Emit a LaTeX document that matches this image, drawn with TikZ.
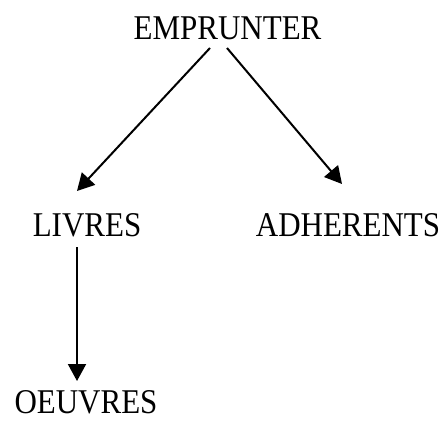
\documentclass[tikz,border=0pt]{standalone}
\usepackage{fontspec}
\setmainfont{Liberation Serif}
\usetikzlibrary{arrows.meta,calc}
\tikzset{
  lbl/.style={inner sep=0pt, anchor=base, font=\fontsize{31}{31}\selectfont},
  arr/.style={line width=2pt, -{Triangle[length=17pt,width=18pt]}}
}
\newcommand{\stretchtxt}[1]{\scalebox{1}[1.12]{#1}}
\begin{document}
\begin{tikzpicture}[x=1pt,y=-1pt]
\useasboundingbox (0,0) rectangle (446,421);
\node[lbl] (emp) at (227.5,39) {\stretchtxt{EMPRUNTER}};
\node[lbl] (livres) at (87,236) {\stretchtxt{LIVRES}};
\node[lbl] (adh) at (348,236) {\stretchtxt{ADHERENTS}};
\node[lbl] (oeuv) at (86,413) {\stretchtxt{OEUVRES}};
\draw[arr] ($(emp.base)+(-17.5,9)$) -- ($(livres.base)+(-10,-45)$);
\draw[arr] ($(emp.base)+(-0.5,9)$) -- ($(adh.base)+(-6,-52)$);
\draw[arr] ($(livres.base)+(-10,11)$) -- ($(oeuv.base)+(-9,-32)$);
\end{tikzpicture}
\end{document}
